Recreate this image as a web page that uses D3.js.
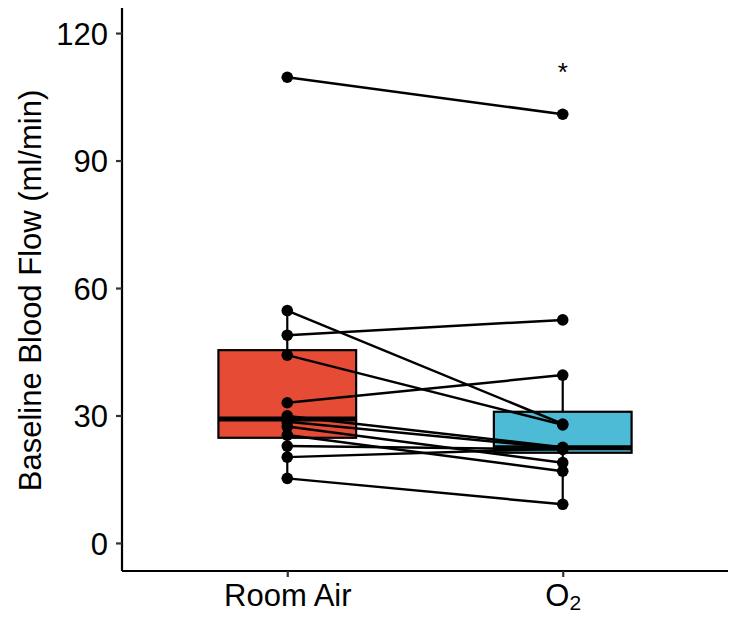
<!DOCTYPE html>
<html>
<head>
<meta charset="utf-8">
<script src="https://cdn.jsdelivr.net/npm/d3@7"></script>
<style>
  body { margin: 0; background: #fff; }
  text { font-family: "Liberation Sans", Arial, sans-serif; }
</style>
</head>
<body>
<div class="chart"></div>
<script>
var svgWidth = 733;
var svgHeight = 617;

var margin = { top: 8, right: 5, bottom: 46, left: 122 };
var width = svgWidth - margin.left - margin.right;
var height = svgHeight - margin.top - margin.bottom;

var groups = ["Room Air", "O2"];
var roomAir = [109.6, 54.7, 48.9, 44.2, 33.0, 29.9, 28.5, 27.4, 25.4, 22.8, 20.2, 15.2];
var oxygen = [100.9, 28.0, 52.5, 27.8, 39.5, 22.5, 22.3, 18.9, 16.9, 22.0, 22.2, 9.1];
var yTicks = [0, 30, 60, 90, 120];
var fills = ["#E64B35", "#4DBBD5"];
var sigMark = { group: "O2", value: 111.5, label: "*" };

var svg = d3
  .select(".chart")
  .append("svg")
  .attr("width", svgWidth)
  .attr("height", svgHeight);

var chart = svg.append("g")
  .attr("transform", "translate(" + margin.left + "," + margin.top + ")");

var xScale = d3.scalePoint().domain(groups).range([0, width]).padding(0.6);
var yScale = d3.scaleLinear().domain([-6.6, 125.9]).range([height, 0]);
var boxWidth = xScale.step() * 0.5;

// box stats (ggplot style quantiles)
function stats(values) {
  var s = values.slice().sort(d3.ascending);
  var q1 = d3.quantileSorted(s, 0.25);
  var med = d3.quantileSorted(s, 0.5);
  var q3 = d3.quantileSorted(s, 0.75);
  var iqr = q3 - q1;
  var lo = d3.min(s.filter(function(v) { return v >= q1 - 1.5 * iqr; }));
  var hi = d3.max(s.filter(function(v) { return v <= q3 + 1.5 * iqr; }));
  return { q1: q1, med: med, q3: q3, lo: lo, hi: hi };
}

var series = [roomAir, oxygen];

series.forEach(function(values, i) {
  var st = stats(values);
  var cx = xScale(groups[i]);
  var g = chart.append("g");
  g.append("line")
    .attr("x1", cx).attr("x2", cx)
    .attr("y1", yScale(st.hi)).attr("y2", yScale(st.q3))
    .attr("stroke", "#000").attr("stroke-width", 2.2);
  g.append("line")
    .attr("x1", cx).attr("x2", cx)
    .attr("y1", yScale(st.q1)).attr("y2", yScale(st.lo))
    .attr("stroke", "#000").attr("stroke-width", 2.2);
  g.append("rect")
    .attr("x", cx - boxWidth / 2)
    .attr("y", yScale(st.q3))
    .attr("width", boxWidth)
    .attr("height", yScale(st.q1) - yScale(st.q3))
    .attr("fill", fills[i])
    .attr("stroke", "#000")
    .attr("stroke-width", 2.2);
  g.append("line")
    .attr("x1", cx - boxWidth / 2).attr("x2", cx + boxWidth / 2)
    .attr("y1", yScale(st.med)).attr("y2", yScale(st.med))
    .attr("stroke", "#000").attr("stroke-width", 5);
});

// paired lines
roomAir.forEach(function(v, i) {
  chart.append("line")
    .attr("x1", xScale(groups[0]))
    .attr("y1", yScale(v))
    .attr("x2", xScale(groups[1]))
    .attr("y2", yScale(oxygen[i]))
    .attr("stroke", "#000")
    .attr("stroke-width", 2.5);
});

// points
series.forEach(function(values, i) {
  chart.selectAll(".pt" + i)
    .data(values)
    .enter()
    .append("circle")
    .attr("class", "pt" + i)
    .attr("cx", xScale(groups[i]))
    .attr("cy", function(d) { return yScale(d); })
    .attr("r", 5.8)
    .attr("fill", "#000");
});

// significance mark
chart.append("text")
  .attr("x", xScale(sigMark.group))
  .attr("y", yScale(sigMark.value) + 12)
  .attr("text-anchor", "middle")
  .style("font-size", "26px")
  .text(sigMark.label);

// axes
var yAxis = chart.append("g")
  .call(d3.axisLeft(yScale).tickValues(yTicks).tickSize(6).tickPadding(8));
var xAxis = chart.append("g")
  .attr("transform", "translate(0," + height + ")")
  .call(d3.axisBottom(xScale).tickSize(6).tickFormat(function() { return ""; }));

[yAxis, xAxis].forEach(function(ax) {
  ax.select(".domain").attr("stroke", "#000").attr("stroke-width", 2.2)
    .attr("d", ax === yAxis ? "M0,0V" + height : "M0,0H" + width);
  ax.selectAll(".tick line").attr("stroke", "#333").attr("stroke-width", 2.2);
});

yAxis.selectAll(".tick text")
  .style("font-size", "31px")
  .attr("fill", "#000")
  .attr("dy", "0.36em");

// x tick labels with subscript
xAxis.selectAll(".tick").each(function(d) {
  var t = d3.select(this).select("text")
    .style("font-size", "31px")
    .attr("fill", "#000")
    .attr("y", 35)
    .attr("dy", 0);
  if (d === "O2") {
    t.text("O");
    t.append("tspan").attr("dy", "0.2em").style("font-size", "21px").text("2");
  } else {
    t.text(d);
  }
});

// y axis title
svg.append("text")
  .attr("transform", "rotate(-90)")
  .attr("x", -(margin.top + height / 2 + 1))
  .attr("y", 41)
  .attr("text-anchor", "middle")
  .style("font-size", "31px")
  .attr("fill", "#000")
  .text("Baseline Blood Flow (ml/min)");
</script>
</body>
</html>
